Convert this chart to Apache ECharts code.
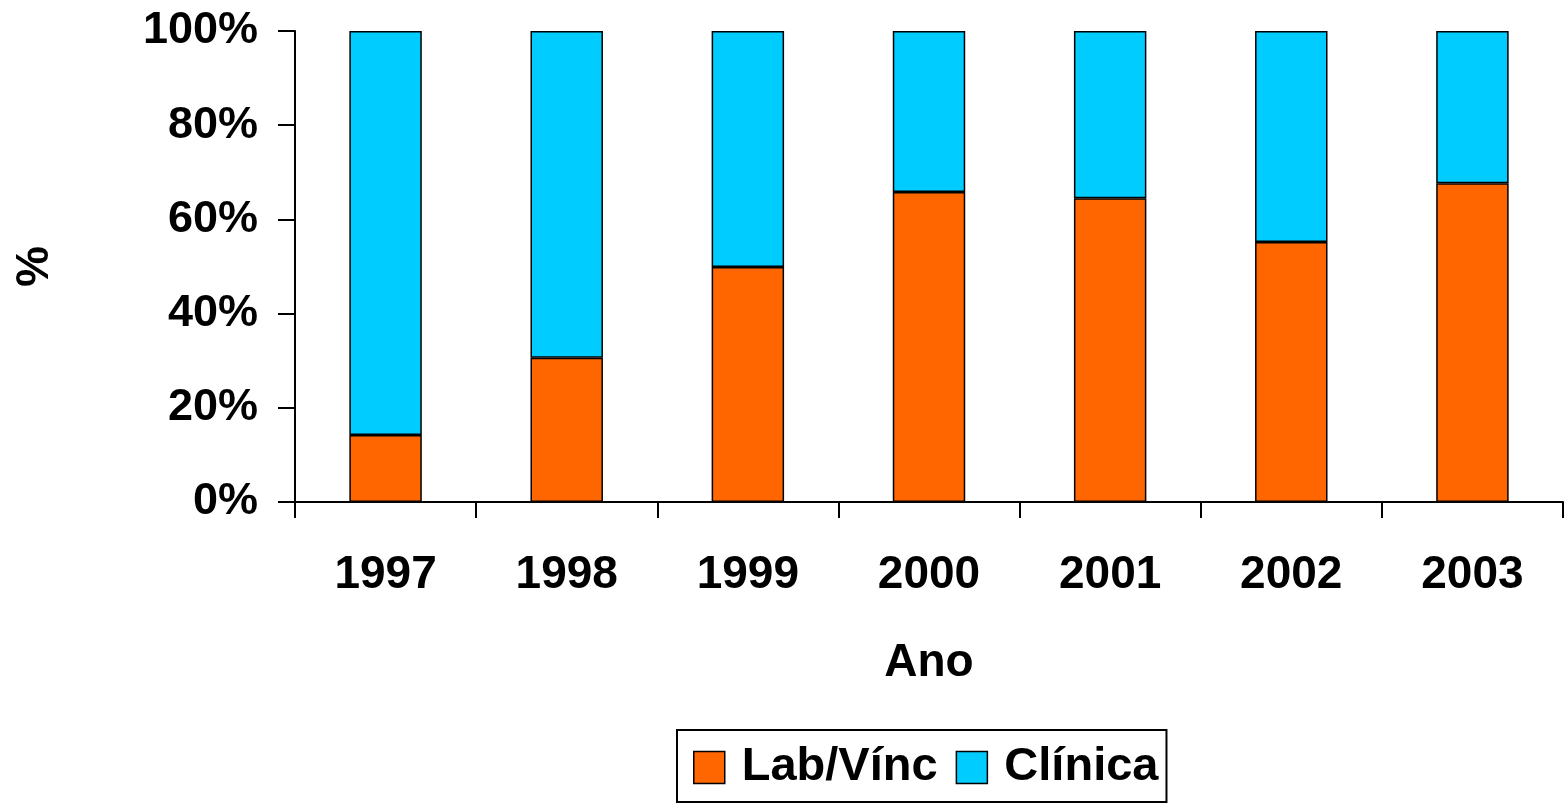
<!DOCTYPE html>
<html><head><meta charset="utf-8">
<script src="https://cdn.jsdelivr.net/npm/echarts@6/dist/echarts.min.js"></script>
<style>html,body{margin:0;padding:0;background:#fff}#c{width:1565px;height:803px}</style>
</head><body><div id="c"></div>
<script>
const categories = ['1997','1998','1999','2000','2001','2002','2003'];
const labVinc = [14.2, 30.6, 49.9, 65.8, 64.5, 55.2, 67.7];
const clinica = [85.8, 69.4, 50.1, 34.2, 35.5, 44.8, 32.3];
const yTicks = [0, 20, 40, 60, 80, 100];

const font = 'Liberation Sans, Arial, sans-serif';
const chart = echarts.init(document.getElementById('c'), null, {renderer:'canvas'});
chart.setOption({
  animation: false,
  backgroundColor: '#fff',
  textStyle: {fontFamily: font},
  grid: {left: 295, right: 2, top: 31, bottom: 301, containLabel: false, outerBoundsMode: 'none'},
  legend: {
    data: ['Lab/Vínc', 'Clínica'],
    left: 677, top: 730,
    itemWidth: 31, itemHeight: 32, itemGap: 18,
    padding: [14, 8, 11, 16],
    borderColor: '#000', borderWidth: 2,
    itemStyle: {borderColor: '#000', borderWidth: 1.5},
    textStyle: {fontFamily: font, fontSize: 47, fontWeight: 'bold', color: '#000', padding: [0, 0, 0, 12]},
    icon: 'rect'
  },
  xAxis: {
    type: 'category', data: categories,
    name: 'Ano', nameLocation: 'middle', nameGap: 138,
    nameTextStyle: {fontFamily: font, fontSize: 46, fontWeight: 'bold', color: '#000'},
    axisLine: {lineStyle: {color: '#000', width: 2}},
    axisTick: {show: true, alignWithLabel: false, length: 16, lineStyle: {color: '#000', width: 2}},
    axisLabel: {fontFamily: font, fontSize: 46, fontWeight: 'bold', color: '#000', margin: 50}
  },
  yAxis: {
    type: 'value', min: 0, max: 100, interval: 20,
    name: '%', nameLocation: 'middle', nameGap: 237, nameRotate: 90,
    nameTextStyle: {fontFamily: font, fontSize: 46, fontWeight: 'bold', color: '#000'},
    axisLine: {show: true, lineStyle: {color: '#000', width: 2}},
    axisTick: {show: true, inside: false, length: 17, lineStyle: {color: '#000', width: 2}},
    splitLine: {show: false},
    axisLabel: {fontFamily: font, fontSize: 45, fontWeight: 'bold', color: '#000', margin: 37,
      formatter: v => yTicks.includes(v) ? v + '%' : ''}
  },
  series: [
    {name: 'Lab/Vínc', type: 'bar', stack: 's', data: labVinc, barWidth: '40%',
     itemStyle: {color: '#FF6600', borderColor: '#000', borderWidth: 1.5}},
    {name: 'Clínica', type: 'bar', stack: 's', data: clinica, barWidth: '40%',
     itemStyle: {color: '#00CCFF', borderColor: '#000', borderWidth: 1.5}}
  ]
});
</script></body></html>
